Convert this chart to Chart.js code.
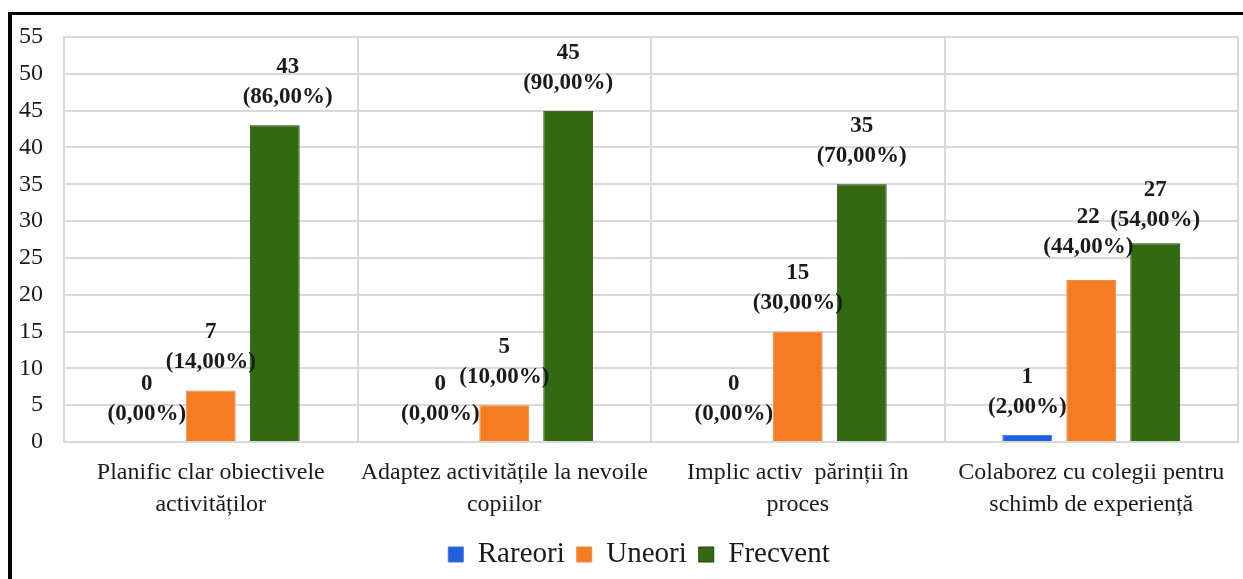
<!DOCTYPE html>
<html><head><meta charset="utf-8">
<script src="https://cdn.jsdelivr.net/npm/chart.js@4"></script>
<style>
html,body{margin:0;padding:0;background:#fff;overflow:hidden}
#wrap{position:relative;width:1243px;height:579px;background:#fff}
#frame{position:absolute;left:8px;top:12px;width:1300px;height:700px;border-top:3px solid #000;border-left:4px solid #000;pointer-events:none}
canvas{position:absolute;left:0;top:0}
</style></head>
<body><div id="wrap"><canvas id="c" width="1243" height="579"></canvas><div id="frame"></div></div>
<script>
const categories = [
  ["Planific clar obiectivele", "activităților"],
  ["Adaptez activitățile la nevoile", "copiilor"],
  ["Implic activ  părinții în", "proces"],
  ["Colaborez cu colegii pentru", "schimb de experiență"]
];
const seriesNames = ["Rareori", "Uneori", "Frecvent"];
const rareori = [0, 0, 0, 1];
const uneori = [7, 5, 15, 22];
const frecvent = [43, 45, 35, 27];
const totalRespondents = 50;
const yTicks = [0, 5, 10, 15, 20, 25, 30, 35, 40, 45, 50, 55];

const fmtPct = v => '(' + (v / totalRespondents * 100).toFixed(2).replace('.', ',') + '%)';

const valueLabels = {
  id: 'valueLabels',
  afterDatasetsDraw(chart, args, opts) {
    const ctx = chart.ctx;
    ctx.save();
    ctx.font = 'bold 23px "Liberation Serif"';
    ctx.fillStyle = '#1a1a1a';
    ctx.textAlign = 'center';
    ctx.textBaseline = 'middle';
    chart.data.datasets.forEach((ds, di) => {
      const meta = chart.getDatasetMeta(di);
      meta.data.forEach((el, i) => {
        const v = ds.data[i];
        const off = opts.offsets[di + ':' + i] || [0, 0];
        const x = el.x + off[0], y = el.y + off[1];
        ctx.fillText(String(v), x, y - 58);
        ctx.fillText(fmtPct(v), x, y - 28);
      });
    });
    ctx.restore();
  }
};

const legendShift = {
  id: 'legendShift',
  afterLayout(chart, args, opts) {
    if (chart.legend) {
      chart.legend.left += opts.dx;
      chart.legend.right += opts.dx;
    }
  }
};

const gridColor = '#d9d9d9';
const serif = '"Liberation Serif", "Times New Roman", serif';

new Chart(document.getElementById('c'), {
  type: 'bar',
  data: {
    labels: categories,
    datasets: [
      { label: seriesNames[0], data: rareori, backgroundColor: '#1f60dc', borderColor: '#3a74e0', borderWidth: 1 },
      { label: seriesNames[1], data: uneori, backgroundColor: '#f57c22', borderColor: '#f08a40', borderWidth: 1 },
      { label: seriesNames[2], data: frecvent, backgroundColor: '#336911', borderColor: '#1f4408', borderWidth: 1 }
    ]
  },
  options: {
    responsive: false,
    animation: false,
    events: [],
    categoryPercentage: 0.654,
    barPercentage: 0.78,
    layout: { padding: { left: 0, right: 5, top: 37, bottom: 0 } },
    plugins: {
      legend: {
        position: 'bottom',
        labels: {
          boxWidth: 15, boxHeight: 15, padding: 12,
          color: '#1a1a1a',
          font: { family: serif, size: 29 }
        }
      },
      tooltip: { enabled: false },
      valueLabels: { offsets: { '2:0': [13, 0], '1:3': [-3, -5], '2:3': [0, 5] } },
      legendShift: { dx: 20 }
    },
    scales: {
      x: {
        grid: { color: gridColor, lineWidth: 2, drawTicks: false, offset: true },
        border: { color: gridColor, width: 2 },
        ticks: {
          padding: 15, color: '#1a1a1a', maxRotation: 0, autoSkip: false,
          font: { family: serif, size: 24, lineHeight: 1.333 }
        },
        afterFit(scale) { scale.height = 86; }
      },
      y: {
        min: 0, max: 55,
        afterBuildTicks(scale) { scale.ticks = yTicks.map(v => ({ value: v })); },
        grid: { color: gridColor, lineWidth: 2, drawTicks: false },
        border: { color: gridColor, width: 2 },
        ticks: {
          padding: 21, color: '#1a1a1a',
          font: { family: serif, size: 24 }
        },
        afterFit(scale) { scale.width = 64; }
      }
    }
  },
  plugins: [valueLabels, legendShift]
});
</script>
</body></html>
